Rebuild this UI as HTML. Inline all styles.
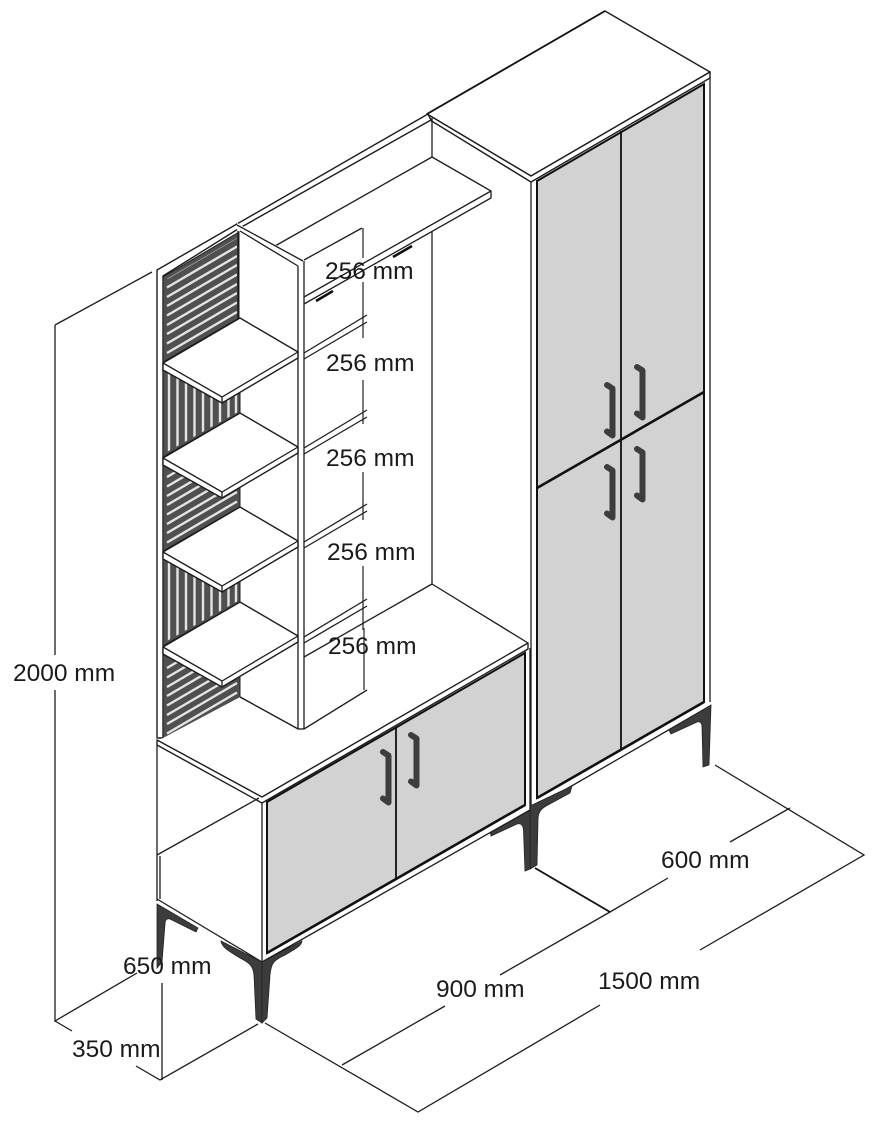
<!DOCTYPE html>
<html>
<head>
<meta charset="utf-8">
<style>
html,body{margin:0;padding:0;background:#fff;width:878px;height:1148px;overflow:hidden}
svg{display:block}
text{font-family:"Liberation Sans",sans-serif;font-size:24.500px;fill:#1a1a1a}
.l{fill:none;stroke:#1c1c1c;stroke-width:1.300}
.m{fill:none;stroke:#111;stroke-width:1.800}
.t{fill:none;stroke:#111;stroke-width:2.600}
.w{fill:#fff;stroke:#1c1c1c;stroke-width:1.400;stroke-linejoin:round}
.f{fill:#fff;stroke:none}
.p{fill:#d2d2d2;stroke:#111;stroke-width:2}
.s{fill:#505050;stroke:#222;stroke-width:1}
.leg{fill:#3c3c3c;stroke:#222;stroke-width:.8}
.hs{fill:none;stroke:#e4e4e4;stroke-width:2.400}
.hd{fill:none;stroke:#3d3d3d;stroke-width:6;stroke-linejoin:round;stroke-linecap:round}
</style>
</head>
<body>
<svg width="878" height="1148" viewBox="0 0 878 1148" xmlns="http://www.w3.org/2000/svg">
<defs>
<g id="handle"><path class="hd" d="M3 4L8.500 7.500V54.500L3 50.500"/></g>
<clipPath id="c1"><path d="M165 280L237 238V317L165 359Z"/></clipPath>
<clipPath id="c2"><path d="M165 370L222 403L238 394V412L165 453Z"/></clipPath>
<clipPath id="c3"><path d="M165 465L222 498L238 489V506L165 548Z"/></clipPath>
<clipPath id="c4"><path d="M165 559L222 592L238 583V601L165 642Z"/></clipPath>
<clipPath id="c5"><path d="M165 654L222 687L238 678V696L165 737Z"/></clipPath>
</defs>

<!-- dimension lines -->
<path class="l" d="M55 325L152 272M55 325V655M55 690V1021L137 973M55 1021L72 1031M136 1066L160 1080L258 1024M162 983V1080"/>
<path class="l" d="M265 1023L418 1112L600 1005M700 950L864 855L715 765M342 1065L445 1006M500 975L610 912L668 878M730 842L790 808"/>
<path class="m" d="M535 868L610 912"/>

<!-- right cabinet -->
<path class="f" d="M531 176H710V706L530 810Z"/>
<path class="w" d="M427 114L605 11L710 72L531 176Z"/>
<path class="m" d="M427 114L605 11"/>
<path class="w" d="M427 114L430 120L531 182L710 78V72L531 176Z"/>
<path class="l" d="M531 182V805M710 78V702"/>
<path class="p" d="M537 181L704 84V702L537 798Z"/>
<path class="m" d="M621 131V749"/>
<path class="t" d="M537 488L704 392"/>
<path class="l" d="M530 810L710 706"/>
<path class="t" d="M537 798L704 702"/>
<use href="#handle" x="604" y="381"/>
<use href="#handle" x="634" y="363"/>
<use href="#handle" x="604" y="463"/>
<use href="#handle" x="634" y="445"/>

<!-- right cabinet legs -->
<path class="leg" d="M530 806L572 786L570 793L546 806C541 809 538 812 538 820L537 865L530 869Z"/>
<path class="leg" d="M530 808L490 831L491 836L517 824C521 823 523 825 523.500 830L525 871L530 869Z"/>
<path class="leg" d="M711 705L669 730L671 734L697 722C700 721 702 723 702 727L703 767L709 765Z"/>

<!-- left tower structure -->
<path class="f" d="M157 272L237 225L304 261V729H157Z"/>
<path class="w" d="M157 270L428 114L431 120L238 229L163 276V738H157Z"/>

<!-- back slat panels -->
<path class="s" d="M163 277L239 232V318L163 362Z"/>
<g class="hs" clip-path="url(#c1)">
<path d="M167 278L237 237M167 287.500L237 246.500M167 297L237 256M167 306L237 265M167 315.500L237 274.500M167 325L237 284M167 334L237 293M167 343.500L237 302.500M167 353L237 312"/>
</g>
<path class="s" d="M163 368L222 402L240 392V413L163 457Z"/>
<g class="hs" clip-path="url(#c2)">
<path d="M169 370V452M177.500 370V452M186 370V452M194.500 370V452M203 370V452M211.500 370V452M220 370V452M228.500 370V452M236 370V452"/>
</g>
<path class="s" d="M163 463L222 497L240 487V507L163 551Z"/>
<g class="hs" clip-path="url(#c3)">
<path d="M167 477L237 436M167 486.500L237 445.500M167 496L237 455M167 505L237 464M167 514.500L237 473.500M167 524L237 483M167 533L237 492M167 542.500L237 501.500"/>
</g>
<path class="s" d="M163 557L222 591L240 581V602L163 646Z"/>
<g class="hs" clip-path="url(#c4)">
<path d="M169 559V641M177.500 559V641M186 559V641M194.500 559V641M203 559V641M211.500 559V641M220 559V641M228.500 559V641M236 559V641"/>
</g>
<path class="s" d="M163 652L222 686L240 676V697L163 740Z"/>
<g class="hs" clip-path="url(#c5)">
<path d="M167 668L237 627M167 677.500L237 636.500M167 687L237 646M167 696L237 655M167 705.500L237 664.500M167 715L237 674M167 724L237 683M167 733.500L237 692.500"/>
</g>

<!-- inner back wall -->
<path class="l" d="M432 118V157M432 232V584"/>

<!-- top shelf -->
<path class="f" d="M432 157L491 191V198L304 304V296L275 246Z"/>
<path class="l" d="M432 157L275 246M432 157L491 191V198L304 304M491 191L304 297"/>
<path class="l" d="M304 260L362 228"/>
<path class="f" d="M237 223L304 261V729H298V266L237 230Z"/>
<path class="l" d="M237 225L303 261M240 231L298 266M298 266V729M304 261V729M238 231V320"/>
<path class="t" d="M316 301L333 291M393 257L412 246"/>

<!-- dimension vertical segments -->
<path class="l" d="M363 228V258M363 282V338M363 380V424M363 472V520M363 566V630M364 628V690" style="stroke:#333"/>

<!-- side shelves -->
<g id="shelf">
<path class="w" d="M163 363L240 318L298 352V358L222 403L163 370Z"/>
<path class="l" d="M163 363L222 397L298 352M222 397V403"/>
<path class="l" d="M304 353L367 315M304 359L367 322"/>
</g>
<use href="#shelf" y="95"/>
<use href="#shelf" y="189"/>
<use href="#shelf" y="284"/>

<path class="l" d="M240 697L298 729H304M304 657L432 584M304 729L367 690"/>

<!-- base cabinet -->
<path class="f" d="M157 741L262 797L304 729L298 729L240 697L163 738Z"/>
<path class="l" d="M240 697L298 729H304L367 690"/>
<path class="l" d="M432 584L528 643"/>
<path class="f" d="M157 746V900L262 962L530 810V649L262 803Z"/>
<path class="w" d="M157 740L262 797L528 643V649L262 803L157 745Z"/>
<path class="l" d="M157 745V901M262 803V962M157 855L259 798M160 856V899M157 899L262 962"/>
<path class="p" d="M267 802L525 653V805L267 953Z"/>
<path class="m" d="M396 727V879"/>
<path class="l" d="M262 962L530 810"/>
<path class="t" d="M267 953L525 805"/>
<path class="l" d="M530 648V810"/>
<use href="#handle" x="380" y="748"/>
<use href="#handle" x="408" y="731"/>

<!-- base legs -->
<path class="leg" d="M157 904L198 928L196 932L170 919C167 918 165 920 165 924L162 962L157 968Z"/>
<path class="leg" d="M262 962L221 941C222 947 227 950 240 958C250 963 253 966 254 975L256 1019L262 1023Z"/>
<path class="leg" d="M262 962L302 941C301 946 297 948 285 955C274 960 271 963 270 975L267 1018L262 1023Z"/>

<!-- labels -->
<text x="325" y="279">256 mm</text>
<text x="326" y="371">256 mm</text>
<text x="326" y="466">256 mm</text>
<text x="327" y="560">256 mm</text>
<text x="328" y="654">256 mm</text>
<text x="13" y="681">2000 mm</text>
<text x="123" y="974">650 mm</text>
<text x="72" y="1057">350 mm</text>
<text x="436" y="997">900 mm</text>
<text x="598" y="989">1500 mm</text>
<text x="661" y="868">600 mm</text>
</svg>
</body>
</html>
